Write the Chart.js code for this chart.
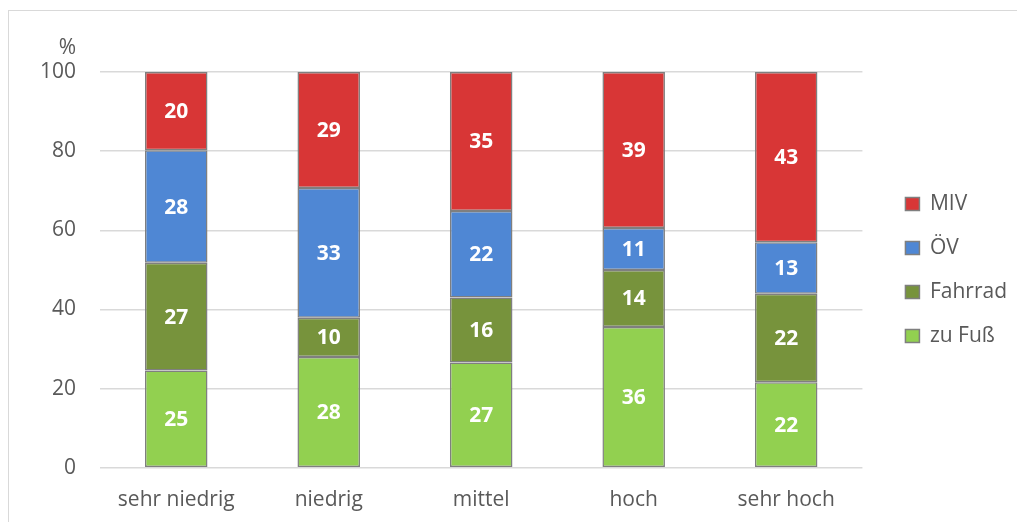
<!DOCTYPE html>
<html>
<head>
<meta charset="utf-8">
<script src="https://cdn.jsdelivr.net/npm/chart.js@4.4.0/dist/chart.umd.min.js"></script>
<style>
    html, body { margin: 0; padding: 0; background: #fff; overflow: hidden; }
    #frame { position: absolute; left: 8px; top: 10px; width: 1100px; height: 600px; border: 1px solid #d9d9d9; }
    #wrap { position: absolute; left: 0; top: 0; width: 1017px; height: 522px; }
</style>
</head>
<body>
<div id="frame"></div>
<div id="wrap"><canvas id="modalSplitChart"></canvas></div>
<script>
// Kategorien und Werte (Prozent), von unten nach oben gestapelt
const categories = ["sehr niedrig", "niedrig", "mittel", "hoch", "sehr hoch"];
const zuFuss = [24.6, 28.0, 26.6, 35.6, 21.6];
const fahrrad = [27.2, 9.9, 16.4, 14.4, 22.4];
const oev = [28.4, 32.8, 21.9, 10.6, 13.0];
const miv = [19.8, 29.3, 35.1, 39.4, 43.0];
const yTicks = [0, 20, 40, 60, 80, 100];

const textColor = "#595959";
const fontFamily = "'Open Sans', 'Noto Sans', sans-serif";

// Zahlen in die Segmente schreiben
const segmentLabels = {
    id: "segmentLabels",
    afterDatasetsDraw(chart) {
        const ctx = chart.ctx;
        ctx.save();
        ctx.fillStyle = "#ffffff";
        ctx.font = "bold 21px " + fontFamily;
        ctx.textAlign = "center";
        ctx.textBaseline = "middle";
        chart.data.datasets.forEach((ds, i) => {
            const meta = chart.getDatasetMeta(i);
            meta.data.forEach((bar, j) => {
                const y = (bar.y + bar.base) / 2;
                ctx.fillText(Math.round(ds.data[j]), bar.x, y + 1);
            });
        });
        ctx.restore();
    },
};

// "%" ueber der y-Achse
const unitLabel = {
    id: "unitLabel",
    afterDraw(chart) {
        const y = chart.scales.y;
        const ctx = chart.ctx;
        ctx.save();
        ctx.fillStyle = textColor;
        ctx.font = "21px " + fontFamily;
        ctx.textAlign = "right";
        ctx.textBaseline = "middle";
        ctx.fillText("%", y.right - 24, y.getPixelForValue(100) - 24);
        ctx.restore();
    },
};

const myChart = new Chart(document.getElementById("modalSplitChart"), {
    type: "bar",
    data: {
        labels: categories,
        datasets: [
            { label: "zu Fuß", data: zuFuss, backgroundColor: "#92d050" },
            { label: "Fahrrad", data: fahrrad, backgroundColor: "#77933c" },
            { label: "ÖV", data: oev, backgroundColor: "#4f87d4" },
            { label: "MIV", data: miv, backgroundColor: "#d83636" },
        ].map((d) => ({
            ...d,
            borderColor: "#7f7f7f",
            borderWidth: 1.5,
            borderSkipped: false,
            categoryPercentage: 1,
            barPercentage: 0.41,
        })),
    },
    options: {
        responsive: true,
        maintainAspectRatio: false,
        animation: false,
        layout: {
            padding: { left: 0, top: 72, right: 0, bottom: -11 },
        },
        scales: {
            x: {
                stacked: true,
                grid: { display: false, drawTicks: false },
                border: { display: false },
                ticks: { color: textColor, font: { family: fontFamily, size: 21 }, padding: 20 },
            },
            y: {
                stacked: true,
                min: 0,
                max: 100,
                afterBuildTicks: (axis) => {
                    axis.ticks = yTicks.map((v) => ({ value: v }));
                },
                afterFit: (axis) => {
                    axis.width = 100;
                },
                grid: { color: "#d9d9d9", lineWidth: 1.5, drawTicks: false },
                border: { display: false },
                ticks: { color: textColor, font: { family: fontFamily, size: 21 }, padding: 24 },
            },
            // leerer Abstand zwischen Diagramm und Legende
            spacer: {
                position: "right",
                display: true,
                grid: { display: false, drawTicks: false },
                border: { display: false },
                ticks: { display: false },
                afterFit: (axis) => {
                    axis.width = 20;
                },
            },
        },
        plugins: {
            legend: {
                position: "right",
                fullSize: false,
                reverse: true,
                labels: {
                    color: textColor,
                    font: { family: fontFamily, size: 21 },
                    boxWidth: 14,
                    boxHeight: 13,
                    padding: 23,
                },
            },
            tooltip: { enabled: false },
        },
    },
    plugins: [segmentLabels, unitLabel],
});
</script>
</body>
</html>
